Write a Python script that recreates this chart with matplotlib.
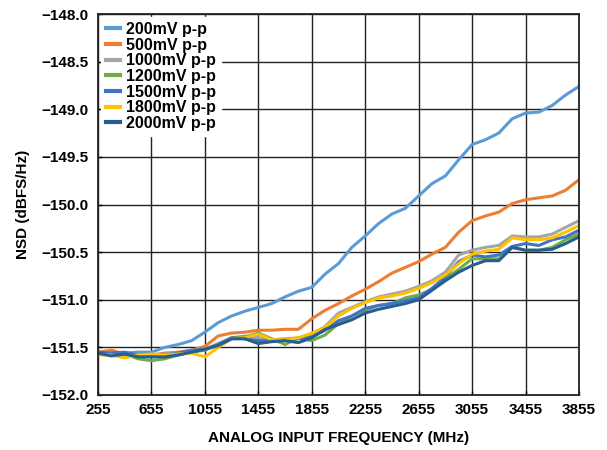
import matplotlib
matplotlib.use("Agg")
import matplotlib.pyplot as plt
from matplotlib.ticker import FuncFormatter, MultipleLocator
import numpy as np

freq_mhz = list(range(255, 3856, 100))

nsd_200mv = [-151.55, -151.55, -151.56, -151.55, -151.55, -151.50, -151.47, -151.43, -151.34, -151.24,
             -151.17, -151.12, -151.08, -151.04, -150.97, -150.91, -150.87, -150.73, -150.62, -150.45,
             -150.33, -150.20, -150.10, -150.04, -149.91, -149.78, -149.70, -149.53, -149.37, -149.32,
             -149.25, -149.10, -149.04, -149.03, -148.96, -148.85, -148.76]
nsd_500mv = [-151.55, -151.53, -151.57, -151.58, -151.58, -151.56, -151.55, -151.53, -151.49, -151.38,
             -151.35, -151.34, -151.32, -151.32, -151.31, -151.31, -151.20, -151.11, -151.04, -150.96,
             -150.89, -150.81, -150.72, -150.66, -150.60, -150.52, -150.45, -150.29, -150.17, -150.12,
             -150.08, -149.99, -149.95, -149.93, -149.91, -149.85, -149.74]
nsd_1000mv = [-151.56, -151.57, -151.58, -151.58, -151.58, -151.57, -151.56, -151.54, -151.52, -151.46,
              -151.40, -151.38, -151.40, -151.42, -151.41, -151.40, -151.37, -151.28, -151.14, -151.08,
              -151.02, -150.97, -150.94, -150.91, -150.86, -150.80, -150.71, -150.53, -150.48, -150.45,
              -150.43, -150.33, -150.34, -150.34, -150.31, -150.24, -150.17]
nsd_1200mv = [-151.56, -151.58, -151.57, -151.62, -151.64, -151.62, -151.58, -151.55, -151.53, -151.47,
              -151.40, -151.39, -151.35, -151.41, -151.47, -151.40, -151.43, -151.37, -151.25, -151.17,
              -151.11, -151.06, -151.04, -150.98, -150.95, -150.89, -150.78, -150.68, -150.57, -150.57,
              -150.57, -150.45, -150.48, -150.48, -150.45, -150.37, -150.31]
nsd_1500mv = [-151.55, -151.56, -151.55, -151.58, -151.58, -151.58, -151.56, -151.53, -151.52, -151.47,
              -151.40, -151.41, -151.43, -151.43, -151.42, -151.41, -151.39, -151.32, -151.22, -151.17,
              -151.09, -151.06, -151.04, -151.01, -150.98, -150.88, -150.76, -150.60, -150.53, -150.55,
              -150.53, -150.44, -150.41, -150.43, -150.37, -150.34, -150.27]
nsd_1800mv = [-151.58, -151.58, -151.61, -151.58, -151.57, -151.58, -151.57, -151.56, -151.60, -151.50,
              -151.41, -151.40, -151.36, -151.42, -151.42, -151.40, -151.35, -151.29, -151.17, -151.09,
              -151.03, -150.98, -150.96, -150.93, -150.88, -150.82, -150.74, -150.62, -150.52, -150.49,
              -150.47, -150.35, -150.37, -150.37, -150.35, -150.29, -150.22]
nsd_2000mv = [-151.56, -151.59, -151.57, -151.60, -151.60, -151.60, -151.58, -151.55, -151.52, -151.48,
              -151.41, -151.41, -151.46, -151.44, -151.43, -151.45, -151.40, -151.31, -151.26, -151.21,
              -151.14, -151.10, -151.07, -151.04, -151.00, -150.90, -150.80, -150.71, -150.64, -150.59,
              -150.59, -150.45, -150.48, -150.48, -150.47, -150.41, -150.34]

series_labels = ["200mV p-p", "500mV p-p", "1000mV p-p", "1200mV p-p",
                 "1500mV p-p", "1800mV p-p", "2000mV p-p"]
series_values = [nsd_200mv, nsd_500mv, nsd_1000mv, nsd_1200mv, nsd_1500mv, nsd_1800mv, nsd_2000mv]
series_colors = ["#5B9BD5", "#ED7D31", "#A5A5A5", "#70AD47", "#4472C4", "#FFC000", "#255E91"]

x_ticks = list(range(255, 3856, 400))

plt.rcParams['font.family'] = ['Liberation Sans', 'DejaVu Sans']
plt.rcParams['font.weight'] = 'bold'

fig = plt.figure(figsize=(6.07, 4.50), dpi=100)
ax = fig.add_axes([98/607, 1-395/450, (579-98)/607, (395-14)/450])

for vals, lab, col in zip(series_values, series_labels, series_colors):
    ax.plot(freq_mhz, vals, color=col, lw=2.2, label=lab, solid_joinstyle='round')

ax.set_xlim(255, 3855)
ax.set_ylim(-152.0, -148.0)
ax.set_xticks(x_ticks)
ax.yaxis.set_major_locator(MultipleLocator(0.5))
ax.yaxis.set_major_formatter(FuncFormatter(lambda v, p: ("\u2212" if v < 0 else "") + f"{abs(v):.1f}"))
ax.grid(True, color="#222222", lw=1.0)
ax.set_axisbelow(True)
for sp in ax.spines.values():
    sp.set_color("#222222")
    sp.set_linewidth(1.3)
ax.tick_params(axis='both', direction='in', length=3, width=1.0, labelsize=11, colors='black')
ax.tick_params(axis='x', pad=6)
ax.tick_params(axis='y', pad=7)
for t in ax.get_xticklabels() + ax.get_yticklabels():
    t.set_fontweight('bold')

ax.set_xlabel("ANALOG INPUT FREQUENCY (MHz)", fontsize=11, fontweight='bold', labelpad=10)
ax.set_ylabel("NSD (dBFS/Hz)", fontsize=11, fontweight='bold', labelpad=8)

leg = ax.legend(loc='upper left', bbox_to_anchor=(0.0, 1.0), frameon=True, fancybox=False,
                edgecolor='white', facecolor='white', framealpha=1.0, fontsize=11.5,
                handlelength=0.85, handletextpad=0.4, labelspacing=0.04, borderpad=0.3,
                borderaxespad=0.2)
for line in leg.get_lines():
    line.set_linewidth(3.0)
for t in leg.get_texts():
    t.set_fontweight('bold')

fig.savefig("out.png", dpi=100)
